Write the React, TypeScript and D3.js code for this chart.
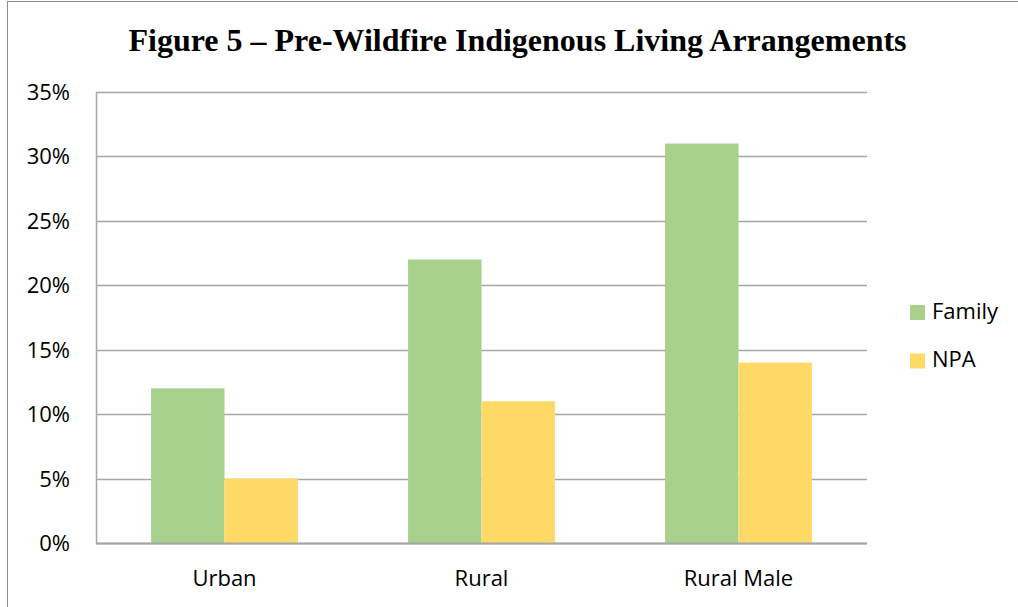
import React from "react";
import * as d3 from "d3";

const categories = ["Urban", "Rural", "Rural Male"];
const seriesNames = ["Family", "NPA"];
const familyValues = [0.12, 0.22, 0.31];
const npaValues = [0.05, 0.11, 0.14];
const yTicks = [0, 0.05, 0.1, 0.15, 0.2, 0.25, 0.3, 0.35];
const seriesColors = ["#A9D18E", "#FFD966"];

const W = 1018;
const H = 607;
const plot = { left: 96, right: 867, top: 92, bottom: 543 };
const labelFont = "'Open Sans', Calibri, sans-serif";

export default function App() {
  const x = d3
    .scaleBand<string>()
    .domain(categories)
    .range([plot.left, plot.right])
    .paddingInner(0)
    .paddingOuter(0);
  const band = x.bandwidth();
  // gap width 150% of a bar
  const barW = band / 3.5;
  const groupOffset = (band - 2 * barW) / 2;

  const y = d3.scaleLinear().domain([0, 0.35]).range([plot.bottom, plot.top]);
  const fmt = d3.format(".0%");

  const series = [familyValues, npaValues];

  return (
    <svg
      width={W}
      height={H}
      style={{ position: "absolute", left: 0, top: 0, background: "#fff" }}
    >
      <rect x={7.5} y={1.5} width={W + 20} height={H + 20} fill="#fff" stroke="#8c8c8c" strokeWidth={1} />
      <text
        x={517.5}
        y={51}
        textAnchor="middle"
        fontFamily="'Liberation Serif', 'Times New Roman', serif"
        fontWeight="bold"
        fontSize={32}
        fill="#000"
      >
        Figure 5 – Pre-Wildfire Indigenous Living Arrangements
      </text>

      {yTicks.map((t) => (
        <g key={t}>
          <line
            x1={plot.left}
            x2={plot.right}
            y1={Math.round(y(t)) + 0.5}
            y2={Math.round(y(t)) + 0.5}
            stroke="#A6A6A6"
            strokeWidth={1.5}
          />
          <text
            x={70}
            y={y(t) + 8}
            textAnchor="end"
            fontFamily={labelFont}
            fontSize={22}
            fill="#000"
          >
            {fmt(t)}
          </text>
        </g>
      ))}
      <line x1={plot.left + 0.5} x2={plot.left + 0.5} y1={plot.top} y2={plot.bottom} stroke="#A6A6A6" strokeWidth={1.5} />

      {categories.map((c, i) => (
        <g key={c}>
          {series.map((vals, s) => (
            <rect
              key={s}
              x={(x(c) as number) + groupOffset + s * barW}
              y={y(vals[i])}
              width={barW}
              height={y(0) - y(vals[i])}
              fill={seriesColors[s]}
            />
          ))}
          <text
            x={(x(c) as number) + band / 2}
            y={586}
            textAnchor="middle"
            fontFamily={labelFont}
            fontSize={22}
            fill="#000"
          >
            {c}
          </text>
        </g>
      ))}
      <line x1={plot.left} x2={plot.right} y1={plot.bottom + 0.5} y2={plot.bottom + 0.5} stroke="#A6A6A6" strokeWidth={2} />

      {seriesNames.map((n, i) => (
        <g key={n} transform={`translate(910, ${305 + i * 48.5})`}>
          <rect x={0} y={0} width={15} height={15} fill={seriesColors[i]} />
          <text x={22} y={13.5} fontFamily={labelFont} fontSize={22} fill="#000">
            {n}
          </text>
        </g>
      ))}
    </svg>
  );
}
